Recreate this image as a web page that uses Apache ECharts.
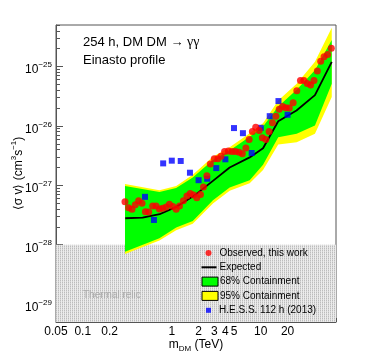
<!DOCTYPE html>
<html><head><meta charset="utf-8">
<script src="https://cdn.jsdelivr.net/npm/echarts@6/dist/echarts.min.js"></script>
<style>html,body{margin:0;padding:0;background:#fff}#c{width:374px;height:357px}</style>
</head><body><div id="c"></div>
<script>
// ---- data ----
const obsMass = [0.298,0.327,0.357,0.389,0.424,0.463,0.505,0.55,0.61,0.666,0.726,0.79,0.863,0.94,1.03,1.12,1.22,1.35,1.48,1.61,1.76,1.91,2.10,2.27,2.48,2.71,3.0,3.3,3.57,3.92,4.32,4.75,5.2,5.7,6.2,6.8,7.4,8.04,8.77,9.6,10.4,11.4,12.4,13.5,14.8,16.1,17.6,19.1,20.9,23.1,25.4,27.9,30.5,33.3,36.3,39.6,43.2,47.1,51.4,56.4,62];
const obsSigma = [5.3e-28,4.2e-28,3.97e-28,4.7e-28,5.5e-28,5.0e-28,3.6e-28,3.55e-28,4.5e-28,4.5e-28,4.0e-28,4.1e-28,4.3e-28,4.8e-28,4.4e-28,3.95e-28,4.5e-28,5.5e-28,6.6e-28,7.3e-28,6.85e-28,6.2e-28,7.0e-28,9.4e-28,1.45e-27,2.28e-27,2.8e-27,2.8e-27,3.1e-27,3.7e-27,3.8e-27,3.7e-27,3.7e-27,3.6e-27,3.4e-27,4.26e-27,5.9e-27,8.05e-27,9.5e-27,8.4e-27,6.3e-27,5.9e-27,8.05e-27,1.13e-26,1.46e-26,1.9e-26,2.13e-26,2.03e-26,2.0e-26,2.46e-26,3.9e-26,5.8e-26,5.8e-26,5.2e-26,4.9e-26,5.8e-26,8.4e-26,1.23e-25,1.46e-25,1.6e-25,2.04e-25];
const expMass = [0.3,0.47,0.73,1.12,1.88,2.9,4.47,7.5,10.6,15.7,25.2,40.6,62.7];
const expSigma = [2.79e-28,2.85e-28,3.26e-28,4.33e-28,7.1e-28,1.19e-27,2.0e-27,2.95e-27,4.2e-27,1.2e-26,1.82e-26,3.3e-26,1.2e-25];
const bandMass = [0.298,0.726,1.12,1.72,2.9,4.47,7.5,10.6,15.7,25.3,40.6,62.7];
const y95Up = [1.05e-27,8.3e-28,9.7e-28,1.51e-27,3.04e-27,4.38e-27,7.55e-27,1.11e-26,2.69e-26,5.15e-26,1.2e-25,4.5e-25];
const g68Up = [9.7e-28,7.7e-28,9.0e-28,1.36e-27,2.67e-27,3.84e-27,6.6e-27,9.8e-27,2.13e-26,4.08e-26,8.67e-26,2.79e-25];
const g68Lo = [7.6e-29,1.28e-28,1.94e-28,2.51e-28,5.6e-28,9.2e-28,1.22e-27,2.22e-27,6.45e-27,7.35e-27,1.02e-26,5.15e-26];
const y95Lo = [7.0e-29,1.18e-28,1.75e-28,2.26e-28,4.93e-28,8.1e-28,1.08e-27,1.81e-27,4.85e-27,5.31e-27,7.35e-27,3.07e-26];
const hessMass = [0.5,0.63,0.8,1.0,1.26,1.6,2.0,2.5,3.16,4.0,5.0,6.3,7.9,10,12.6,15.8,20];
const hessSigma = [6.4e-28,2.61e-28,2.34e-27,2.6e-27,2.57e-27,1.63e-27,1.22e-27,1.29e-27,1.95e-27,2.74e-27,9.2e-27,7.55e-27,3.5e-27,9.3e-27,1.46e-26,2.62e-26,1.54e-26];
const relicTop = 1e-28;
const xMin = 0.05, xMax = 70, yMin = 5e-30, yMax = 5e-25;
const xTickLabels = [0.05,0.1,0.2,1,2,3,4,5,10,20];
const xMajorTicks = [0.1,1,10];
const xMinorTicks = [0.05,0.06,0.07,0.08,0.09,0.2,0.3,0.4,0.5,0.6,0.7,0.8,0.9,2,3,4,5,6,7,8,9,20,30,40,50,60,70];
const yTickLabels = [1e-29,1e-28,1e-27,1e-26,1e-25];
const yMinorTicks = [6e-30,7e-30,8e-30,9e-30,
  2e-29,3e-29,4e-29,5e-29,6e-29,7e-29,8e-29,9e-29,
  2e-28,3e-28,4e-28,5e-28,6e-28,7e-28,8e-28,9e-28,
  2e-27,3e-27,4e-27,5e-27,6e-27,7e-27,8e-27,9e-27,
  2e-26,3e-26,4e-26,5e-26,6e-26,7e-26,8e-26,9e-26,
  2e-25,3e-25,4e-25,5e-25];

// y values are handed to the log axis in units of 1e-30 cm^3/s (ECharts rounds tiny numbers)
const YU = 1e30;
const ys = v => v * YU;

const FF = '"Liberation Sans", Arial, Helvetica, sans-serif';
const AX = '#555';

// hatch pattern for the thermal relic region
const pc = document.createElement('canvas');
pc.width = 2; pc.height = 2;
const pctx = pc.getContext('2d');
pctx.fillStyle = '#ececec'; pctx.fillRect(0,0,2,2);
pctx.fillStyle = '#bcbcbc'; pctx.fillRect(0,0,1,1);
pctx.fillStyle = '#d6d6d6'; pctx.fillRect(0,1,1,1);
const hatch = {image: pc, repeat: 'repeat'};

function bandSeries(name, upper, lower, color, z) {
  return {
    type: 'custom', name: name, z: z, silent: true, clip: true,
    itemStyle: {color: color},
    data: [[bandMass[0], ys(upper[0])]],
    renderItem: function (params, api) {
      const pts = [];
      for (let i = 0; i < bandMass.length; i++) pts.push(api.coord([bandMass[i], ys(upper[i])]));
      for (let i = bandMass.length - 1; i >= 0; i--) pts.push(api.coord([bandMass[i], ys(lower[i])]));
      return {type: 'polygon', shape: {points: pts}, style: {fill: color}};
    }
  };
}

const chart = echarts.init(document.getElementById('c'), null, {renderer: 'canvas'});
const expLabel = v => {
  const e = Math.round(Math.log10(v / YU));
  return '{b|10}{s|' + String(e).replace('-', '\u2212') + '}';
};
const legText = pad => ({fontFamily: FF, fontSize: 10, lineHeight: 14, color: '#000', padding: [0, 0, 0, pad]});
chart.setOption({
  animation: false,
  backgroundColor: '#fff',
  grid: {left: 56, right: 38, top: 25, bottom: 35, containLabel: false, outerBoundsMode: 'none',
    show: true, borderColor: AX, borderWidth: 1, backgroundColor: 'transparent'},
  xAxis: [{
    type: 'log', logBase: 10, min: xMin, max: xMax,
    name: 'm{sub|DM} (TeV)', nameLocation: 'middle', nameGap: 15, nameMoveOverlap: false,
    nameTextStyle: {fontFamily: FF, fontSize: 12, color: '#000', lineHeight: 16,
      rich: {sub: {fontFamily: FF, fontSize: 8, lineHeight: 8, verticalAlign: 'bottom', color: '#000'}}},
    axisLine: {show: true, lineStyle: {color: AX, width: 1}},
    axisTick: {show: true, inside: true, length: 8, customValues: xMajorTicks, lineStyle: {color: AX}},
    axisLabel: {show: true, customValues: xTickLabels, margin: 4, fontFamily: FF, fontSize: 12, color: '#000',
      formatter: v => String(+(+v).toPrecision(3))},
    splitLine: {show: false}, minorTick: {show: false}
  }, {
    type: 'log', logBase: 10, min: xMin, max: xMax, position: 'bottom',
    axisLine: {show: false},
    axisTick: {show: true, inside: true, length: 4, customValues: xMinorTicks, lineStyle: {color: AX}},
    axisLabel: {show: false}, splitLine: {show: false}
  }],
  yAxis: [{
    type: 'log', logBase: 10, min: ys(yMin), max: ys(yMax), position: 'left',
    name: '\u27e8\u03c3 v\u27e9 (cm{sup|3}s{sup|\u22121})', nameLocation: 'middle', nameRotate: 90, nameGap: 28, nameMoveOverlap: false,
    nameTextStyle: {fontFamily: FF, fontSize: 12, color: '#000', lineHeight: 18,
      rich: {sup: {fontFamily: FF, fontSize: 8, lineHeight: 8, verticalAlign: 'top', color: '#000'}}},
    axisLine: {show: true, lineStyle: {color: AX, width: 1}},
    axisTick: {show: true, inside: true, length: 7, customValues: yTickLabels.map(ys), lineStyle: {color: AX}},
    axisLabel: {show: true, customValues: yTickLabels.map(ys), margin: 4, formatter: expLabel, padding: [7, 0, 0, 0],
      rich: {b: {fontFamily: FF, fontSize: 12, lineHeight: 18, color: '#000'},
             s: {fontFamily: FF, fontSize: 8, lineHeight: 7, verticalAlign: 'top', color: '#000'}}},
    splitLine: {show: false}
  }, {
    type: 'log', logBase: 10, min: ys(yMin), max: ys(yMax), position: 'left', offset: 0,
    axisLine: {show: false},
    axisTick: {show: true, inside: true, length: 4, customValues: yMinorTicks.map(ys), lineStyle: {color: AX}},
    axisLabel: {show: false}, splitLine: {show: false}
  }],
  legend: [{
    data: [{name: 'Observed, this work', icon: 'circle'}],
    left: 205.5, top: 246, orient: 'vertical', itemWidth: 6, itemHeight: 6, padding: 0, itemGap: 0,
    selectedMode: false, textStyle: legText(3)
  }, {
    data: [{name: 'Expected', icon: 'rect', itemStyle: {color: '#000', borderWidth: 0}}],
    left: 201.5, top: 260.3, orient: 'vertical', itemWidth: 15, itemHeight: 2, padding: 0, itemGap: 0,
    symbolKeepAspect: false, selectedMode: false, textStyle: legText(-2)
  }, {
    data: [
      {name: '68% Containment', icon: 'rect', itemStyle: {color: '#00ff00', borderColor: '#000', borderWidth: 1}},
      {name: '95% Containment', icon: 'rect', itemStyle: {color: '#ffff00', borderColor: '#000', borderWidth: 1}}
    ],
    left: 201.5, top: 274.6, orient: 'vertical', itemWidth: 16, itemHeight: 9, padding: 0, itemGap: 0.3,
    symbolKeepAspect: false, selectedMode: false, textStyle: legText(-3)
  }, {
    data: [{name: 'H.E.S.S. 112 h (2013)', icon: 'rect'}],
    left: 206, top: 303.3, orient: 'vertical', itemWidth: 5, itemHeight: 5, padding: 0, itemGap: 0,
    selectedMode: false, textStyle: legText(3)
  }],
  graphic: [
    {type: 'text', left: 83, top: 35, z: 100, style: {text: '254 h, DM DM \u2192 {g|\u03b3\u03b3}', font: '13px ' + FF, fill: '#000',
      rich: {g: {fontFamily: '"Liberation Serif", "DejaVu Serif", serif', fontSize: 14, fill: '#000'}}}},
    {type: 'text', left: 83, top: 54, z: 100, style: {text: 'Einasto profile', font: '13px ' + FF, fill: '#000'}},
    {type: 'text', left: 83, top: 290, z: 100, style: {text: 'Thermal relic', font: '10px ' + FF, fill: '#aaaaaa'}}
  ],
  series: [
    {
      type: 'custom', name: 'relic', z: 1, silent: true, clip: true,
      data: [[xMin, ys(relicTop)]],
      renderItem: function (params, api) {
        const p0 = api.coord([xMin, ys(relicTop)]);
        const p1 = api.coord([xMax, ys(yMin)]);
        return {type: 'rect', shape: {x: p0[0], y: p0[1], width: p1[0] - p0[0], height: p1[1] - p0[1]}, style: {fill: hatch}};
      }
    },
    bandSeries('95% Containment', y95Up, y95Lo, '#ffff00', 2),
    bandSeries('68% Containment', g68Up, g68Lo, '#00ff00', 3),
    {
      type: 'line', name: 'Expected', z: 4, symbol: 'none', silent: true,
      lineStyle: {color: '#000', width: 1.8}, itemStyle: {color: '#000'},
      data: expMass.map((m, i) => [m, ys(expSigma[i])])
    },
    {
      type: 'scatter', name: 'H.E.S.S. 112 h (2013)', z: 5, symbol: 'rect', symbolSize: 6, silent: true,
      itemStyle: {color: '#0000ff'},
      data: hessMass.map((m, i) => [m, ys(hessSigma[i])])
    },
    {
      type: 'scatter', name: 'Observed, this work', z: 6, symbol: 'circle', symbolSize: 7, silent: true,
      itemStyle: {color: '#ff0000'},
      data: obsMass.map((m, i) => [m, ys(obsSigma[i])])
    }
  ]
});
</script>
</body></html>
